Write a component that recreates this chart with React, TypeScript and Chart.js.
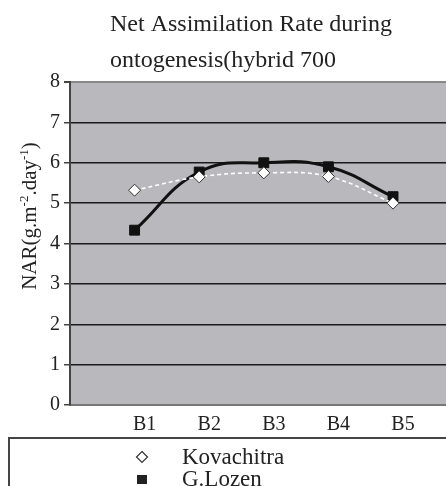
import React, { useEffect, useRef } from "react";
import { Chart, registerables } from "chart.js";

Chart.register(...registerables);

const categories = ["B1", "B2", "B3", "B4", "B5"];
const kovachitra = [5.32, 5.65, 5.75, 5.66, 5.0];
const gLozen = [4.33, 5.77, 6.0, 5.9, 5.16];
const seriesNames = ["Kovachitra", "G.Lozen"];
const titleLines = ["Net Assimilation Rate during", "ontogenesis(hybrid 700"];
const yMin = 0;
const yMax = 8;

const FONT = '"Liberation Serif", "Times New Roman", serif';

const decorPlugin = {
  id: "decor",
  afterLayout(chart: any) {
    const xs = chart.scales.x;
    const right = chart.width;
    chart.chartArea.right = right;
    chart.chartArea.width = right - chart.chartArea.left;
    xs.right = right;
    xs.width = right - xs.left;
    xs.configure();
  },
  beforeDraw(chart: any) {
    const { ctx, chartArea } = chart;
    ctx.save();
    ctx.fillStyle = "#b9b9bd";
    ctx.fillRect(chartArea.left, chartArea.top, chartArea.right - chartArea.left, chartArea.bottom - chartArea.top);
    ctx.restore();
  },
  afterDraw(chart: any) {
    const { ctx } = chart;
    ctx.save();
    // Title
    ctx.fillStyle = "#222";
    ctx.font = `24px ${FONT}`;
    ctx.textAlign = "left";
    ctx.textBaseline = "alphabetic";
    ctx.fillText(titleLines[0], 110, 31);
    ctx.fillText(titleLines[1], 110, 67);

    // Y axis title with superscripts
    const segs: [string, boolean][] = [
      ["NAR(g.m", false],
      ["-2", true],
      [".day", false],
      ["-1", true],
      [")", false],
    ];
    const normalFont = `21px ${FONT}`;
    const supFont = `13px ${FONT}`;
    let total = 0;
    for (const [t, sup] of segs) {
      ctx.font = sup ? supFont : normalFont;
      total += ctx.measureText(t).width;
    }
    ctx.translate(36, 216);
    ctx.rotate(-Math.PI / 2);
    let x = -total / 2;
    for (const [t, sup] of segs) {
      ctx.font = sup ? supFont : normalFont;
      ctx.fillText(t, x, sup ? -8 : 0);
      x += ctx.measureText(t).width;
    }
    ctx.setTransform(1, 0, 0, 1, 0, 0);
    ctx.restore();

    // Legend box
    ctx.save();
    ctx.strokeStyle = "#444";
    ctx.lineWidth = 2;
    ctx.strokeRect(9, 438, 500, 100);
    // diamond
    const dx = 142, dy = 457, r = 5.5;
    ctx.beginPath();
    ctx.moveTo(dx, dy - r);
    ctx.lineTo(dx + r, dy);
    ctx.lineTo(dx, dy + r);
    ctx.lineTo(dx - r, dy);
    ctx.closePath();
    ctx.fillStyle = "#fff";
    ctx.fill();
    ctx.strokeStyle = "#333";
    ctx.lineWidth = 1.2;
    ctx.stroke();
    // square
    ctx.fillStyle = "#222";
    ctx.fillRect(137, 475, 10, 9);
    ctx.fillStyle = "#222";
    ctx.font = `23px ${FONT}`;
    ctx.textAlign = "left";
    ctx.fillText(chart.data.datasets[0].label, 182, 464);
    ctx.fillText(chart.data.datasets[1].label, 182, 486);
    ctx.restore();
  },
};

export default function App() {
  const canvasRef = useRef<HTMLCanvasElement | null>(null);

  useEffect(() => {
    if (!canvasRef.current) return;
    const chart = new Chart(canvasRef.current, {
      type: "line",
      data: {
        datasets: [
          {
            label: seriesNames[0],
            data: kovachitra.map((v, i) => ({ x: i + 1, y: v })),
            borderColor: "#ffffff",
            borderWidth: 1.6,
            borderDash: [4, 3],
            pointStyle: "rectRot",
            pointRadius: 6,
            pointBackgroundColor: "#ffffff",
            pointBorderColor: "#333",
            pointBorderWidth: 1,
            tension: 0.4,
            fill: false,
          },
          {
            label: seriesNames[1],
            data: gLozen.map((v, i) => ({ x: i + 1, y: v })),
            borderColor: "#111111",
            borderWidth: 3,
            pointStyle: "rect",
            pointRadius: 7,
            pointBackgroundColor: "#111111",
            pointBorderColor: "#111111",
            pointBorderWidth: 1,
            tension: 0.45,
            fill: false,
          },
        ],
      },
      options: {
        animation: false,
        responsive: true,
        maintainAspectRatio: false,
        layout: { padding: { top: 82, left: 0, right: 0, bottom: 0 } },
        plugins: {
          legend: { display: false },
          title: { display: false },
          tooltip: { enabled: false },
        },
        scales: {
          x: {
            type: "linear",
            min: 0,
            max: 5.82,
            afterFit: (s: any) => {
              s.height = 81;
              s.paddingLeft = 0;
              s.paddingRight = 0;
            },
            afterBuildTicks: (s: any) => {
              s.ticks = categories.map((_, i) => ({ value: i + 1 }));
            },
            ticks: {
              autoSkip: false,
              maxRotation: 0,
              padding: 8,
              labelOffset: 10,
              color: "#222",
              font: { family: FONT, size: 20 },
              callback: (v: any) => categories[Number(v) - 1] ?? "",
            },
            grid: { display: false, drawTicks: false },
            border: { display: true, color: "#777", width: 2 },
          },
          y: {
            min: yMin,
            max: yMax,
            afterFit: (s: any) => {
              s.width = 70;
              s.paddingTop = 0;
              s.paddingBottom = 0;
            },
            ticks: {
              stepSize: 1,
              padding: 4,
              color: "#222",
              font: { family: FONT, size: 20 },
            },
            grid: {
              color: (c: any) => (c.tick && c.tick.value === yMax ? "#888" : c.tick && c.tick.value === yMin ? "rgba(0,0,0,0)" : "#1a1a1a"),
              lineWidth: (c: any) => (c.tick && c.tick.value === yMax ? 2 : 1.5),
              tickColor: "#444",
              tickLength: 6,
              drawTicks: true,
            },
            border: { display: true, color: "#444", width: 2 },
          },
        },
      },
      plugins: [decorPlugin],
    });
    return () => chart.destroy();
  }, []);

  return (
    <div style={{ position: "fixed", left: 0, top: 0, width: 446, height: 486, background: "#fff" }}>
      <canvas ref={canvasRef} />
    </div>
  );
}
